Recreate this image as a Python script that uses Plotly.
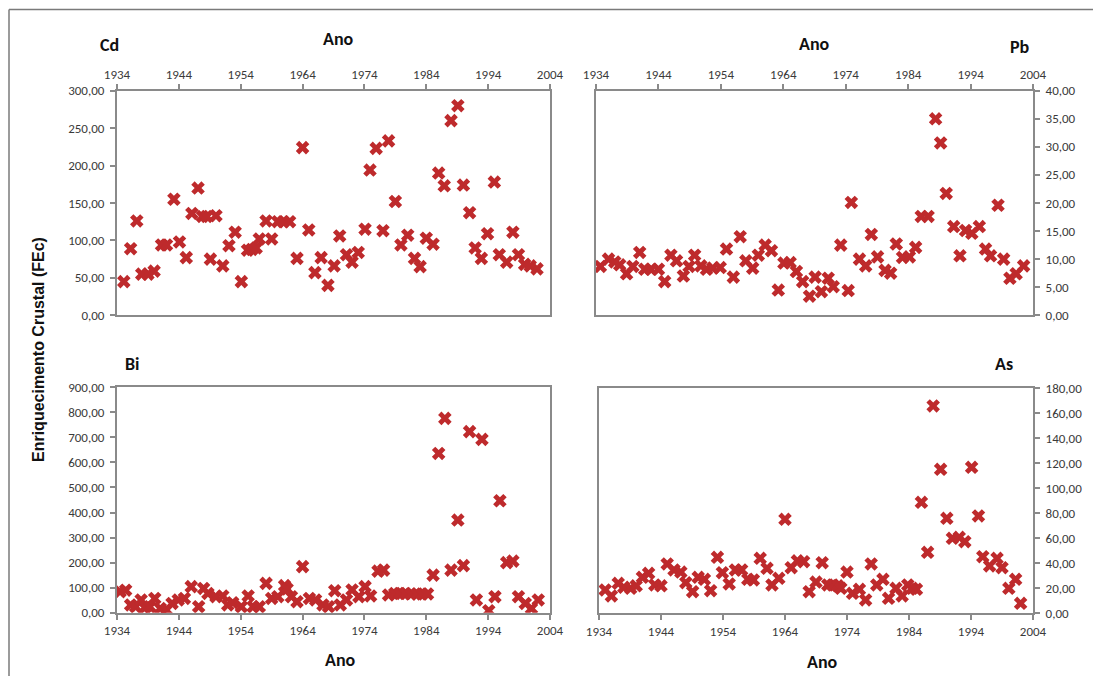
import plotly.graph_objects as go

# ---------------- data ----------------
years_cd = [1935.1, 1936.2, 1937.2, 1938.0, 1939.0, 1940.0, 1941.2, 1942.0, 1943.2, 1944.1,
            1945.2, 1946.1, 1947.1, 1947.8, 1948.5, 1949.1, 1950.0, 1951.1, 1952.1, 1953.1,
            1954.1, 1955.1, 1955.8, 1956.5, 1957.0, 1958.1, 1959.0, 1960.0, 1960.9, 1961.9,
            1963.1, 1964.0, 1965.0, 1966.0, 1967.0, 1968.1, 1969.1, 1970.0, 1971.1, 1972.0,
            1973.0, 1974.1, 1974.9, 1975.9, 1977.0, 1977.9, 1979.0, 1979.9, 1981.0, 1982.1,
            1983.0, 1984.0, 1985.1, 1986.0, 1986.9, 1988.0, 1989.1, 1990.0, 1991.0, 1991.9,
            1992.9, 1993.9, 1995.0, 1995.8, 1997.0, 1998.0, 1998.9, 1999.9, 2000.8, 2001.9]
cd = [45, 89, 126, 55, 55, 59, 94, 94, 155, 98,
      77, 136, 170, 132, 132, 75, 133, 66, 93, 111,
      45, 87, 88, 90, 102, 126, 102, 125, 125, 125,
      76, 224, 114, 57, 77, 40, 66, 106, 81, 71,
      84, 115, 194, 223, 113, 233, 152, 94, 107, 76,
      65, 103, 95, 190, 173, 260, 280, 174, 137, 90,
      76, 109, 178, 81, 71, 111, 81, 68, 66, 62]

years_pb = [1934.7, 1936.0, 1937.0, 1937.8, 1938.9, 1939.9, 1941.0, 1941.8, 1942.8, 1944.0,
            1945.0, 1946.0, 1946.9, 1948.0, 1948.9, 1949.8, 1950.8, 1951.7, 1952.7, 1953.9,
            1954.9, 1956.0, 1957.1, 1958.0, 1959.1, 1960.0, 1961.1, 1962.1, 1963.2, 1964.1,
            1965.1, 1966.1, 1967.1, 1968.2, 1969.1, 1970.1, 1971.2, 1972.0, 1973.2, 1974.4,
            1974.9, 1976.2, 1977.2, 1978.1, 1979.1, 1980.3, 1981.2, 1982.1, 1983.1, 1984.2,
            1985.2, 1986.1, 1987.2, 1988.4, 1989.2, 1990.1, 1991.3, 1992.3, 1993.2, 1994.2,
            1995.4, 1996.4, 1997.2, 1998.4, 1999.3, 2000.3, 2001.3, 2002.5]
pb = [8.7, 10.0, 9.5, 9.0, 7.4, 8.7, 11.2, 8.2, 8.2, 8.2,
      6.0, 10.7, 9.7, 7.0, 8.7, 10.7, 8.8, 8.2, 8.4, 8.5,
      11.8, 6.8, 14.0, 9.7, 8.4, 10.7, 12.5, 11.5, 4.5, 9.3,
      9.4, 7.8, 6.0, 3.4, 6.8, 4.2, 6.6, 5.1, 12.5, 4.4,
      20.1, 10.0, 8.8, 14.4, 10.4, 8.0, 7.5, 12.7, 10.3, 10.4,
      12.1, 17.6, 17.6, 35.0, 30.7, 21.7, 15.8, 10.6, 15.1, 14.6,
      15.8, 11.8, 10.6, 19.6, 10.0, 6.6, 7.4, 8.8]

years_bi = [1934.5, 1935.4, 1936.2, 1937.0, 1937.9, 1938.5, 1939.3, 1940.1, 1941.0, 1942.0,
            1942.9, 1943.9, 1944.9, 1946.0, 1947.2, 1948.0, 1948.7, 1950.0, 1951.1, 1951.9,
            1952.7, 1954.1, 1955.2, 1956.0, 1957.0, 1958.1, 1959.0, 1960.0, 1961.1, 1961.5,
            1962.2, 1963.1, 1964.0, 1965.1, 1966.1, 1967.3, 1968.2, 1969.2, 1970.1, 1971.1,
            1972.0, 1973.1, 1974.1, 1975.0, 1976.2, 1977.1, 1977.9, 1978.9, 1979.7, 1980.6,
            1981.5, 1982.5, 1983.3, 1984.2, 1985.1, 1986.0, 1987.0, 1988.0, 1989.1, 1990.0,
            1991.0, 1992.1, 1993.0, 1994.1, 1995.1, 1995.9, 1997.0, 1998.0, 1998.9, 2000.0,
            2001.0, 2002.1]
bi = [84, 90, 31, 24, 51, 20, 24, 57, 17, 11,
      37, 51, 57, 104, 24, 97, 77, 64, 67, 31,
      40, 24, 67, 24, 24, 117, 57, 64, 108, 95,
      64, 44, 184, 57, 51, 31, 24, 88, 31, 51,
      91, 64, 104, 67, 166, 170, 71, 77, 77, 77,
      75, 75, 75, 75, 150, 636, 776, 170, 370, 188,
      723, 51, 692, 8, 64, 447, 200, 206, 64, 37,
      17, 51]

years_as = [1935.0, 1936.0, 1937.1, 1938.0, 1939.1, 1940.0, 1941.0, 1942.0, 1943.0, 1944.0,
            1945.0, 1946.1, 1947.2, 1948.0, 1949.1, 1950.0, 1951.0, 1952.0, 1953.1, 1953.9,
            1955.0, 1956.0, 1957.0, 1958.0, 1958.9, 1960.0, 1961.1, 1961.9, 1963.0, 1964.0,
            1965.0, 1966.0, 1967.0, 1967.9, 1969.0, 1970.0, 1970.9, 1971.7, 1972.5, 1973.0,
            1974.0, 1974.9, 1976.0, 1977.0, 1977.9, 1978.8, 1979.8, 1980.7, 1981.9, 1982.9,
            1983.8, 1984.5, 1985.2, 1986.0, 1987.0, 1987.9, 1989.1, 1990.1, 1991.0, 1992.1,
            1993.0, 1994.1, 1995.2, 1995.9, 1997.0, 1998.2, 1999.0, 2000.1, 2001.2, 2002.0]
as_ = [18.7, 13.9, 24.0, 20.8, 20.0, 22.0, 28.8, 32.0, 22.7, 22.0,
       39.5, 34.7, 33.0, 24.5, 17.3, 28.8, 27.2, 18.1, 44.8, 32.5,
       23.5, 34.7, 34.7, 27.2, 26.7, 44.0, 36.0, 22.7, 28.0, 75.2,
       36.5, 42.0, 41.3, 17.3, 25.0, 40.5, 22.7, 22.7, 22.0, 20.0,
       33.0, 16.0, 19.2, 10.7, 39.5, 22.7, 27.2, 12.0, 20.0, 13.9,
       22.7, 20.0, 19.2, 88.8, 48.8, 165.9, 115.2, 76.0, 60.0, 60.8,
       57.3, 116.8, 77.9, 45.3, 37.9, 44.0, 36.5, 20.0, 27.2, 8.0]

panel_names = ["Cd", "Pb", "Bi", "As"]
x_label = "Ano"
y_label = "Enriquecimento Crustal (FEc)"
year_range = [1934, 2004]
y_ranges = [[0, 300], [0, 40], [0, 900], [0, 180]]
y_steps = [50, 5, 100, 20]

# ---------------- layout ----------------
# The page body has an 8px margin, so the figure is sized to fit the window exactly
OFF = 8
W, H = 1101 - 2 * OFF, 684 - 2 * OFF
def px_x(p): return (p - OFF) / W
def px_y(p): return 1 - (p - OFF) / H

MARK = "#BE2A2C"
AXC = "#8A8A8A"
TICKF = dict(family="Carlito, Lato, sans-serif", size=13, color="#3A3A3A")
TITLEF = dict(family="Carlito, Lato, sans-serif", size=18, color="#111111")

panels = [
    (years_cd, cd, (117, 550), (90.7, 315.3), "top", "left"),
    (years_pb, pb, (596, 1033), (90.7, 315.3), "top", "right"),
    (years_bi, bi, (117, 550), (387.3, 612.7), "bottom", "left"),
    (years_as, as_, (599, 1033), (388.3, 613.3), "bottom", "right"),
]

fig = go.Figure()
layout = dict(
    template="none",
    width=W, height=H, autosize=False,
    margin=dict(l=0, r=0, t=0, b=0, pad=0, autoexpand=False),
    paper_bgcolor="white", plot_bgcolor="white",
    showlegend=False, separators=",.",
)

for i, (xs, ys, xd, yd, xside, yside) in enumerate(panels):
    n = "" if i == 0 else str(i + 1)
    fig.add_trace(go.Scatter(
        x=xs, y=ys, mode="markers", xaxis="x" + n, yaxis="y" + n,
        marker=dict(symbol="x", size=12, color=MARK, line=dict(width=0)),
        hoverinfo="x+y",
    ))
    layout["xaxis" + n] = dict(
        domain=[px_x(xd[0]), px_x(xd[1])], anchor="y" + n, side=xside,
        range=year_range, tickmode="linear", tick0=1934, dtick=10, tickformat="d",
        showline=True, linecolor=AXC, linewidth=2, mirror=True, automargin=False,
        ticks="outside", ticklen=5, tickcolor=AXC, tickwidth=1.5,
        showgrid=False, zeroline=False, tickfont=TICKF,
    )
    layout["yaxis" + n] = dict(
        domain=[px_y(yd[1]), px_y(yd[0])], anchor="x" + n, side=yside,
        range=y_ranges[i], tickmode="linear", tick0=0, dtick=y_steps[i], tickformat=".2f",
        showline=True, linecolor=AXC, linewidth=2, mirror=True, automargin=False,
        ticks="outside", ticklen=5, tickcolor=AXC, tickwidth=1.5, ticklabelstandoff=3,
        showgrid=False, zeroline=False, tickfont=TICKF,
    )

fig.update_layout(**layout)

labels = [
    (panel_names[0], 109, 45),
    (x_label, 338, 39),
    (x_label, 814, 44),
    (panel_names[1], 1020, 47),
    (panel_names[2], 132, 364),
    (panel_names[3], 1004, 364),
    (x_label, 340, 660),
    (x_label, 822, 662),
]
for txt, x, y in labels:
    fig.add_annotation(text="<b>%s</b>" % txt, x=px_x(x), y=px_y(y), xref="paper", yref="paper",
                       showarrow=False, font=TITLEF, xanchor="center", yanchor="middle")

fig.add_annotation(text="<b>%s</b>" % y_label, x=px_x(38), y=px_y(350), xref="paper", yref="paper",
                   showarrow=False, textangle=-90,
                   font=dict(family="Liberation Sans, Arial, sans-serif", size=16, color="#111111"),
                   xanchor="center", yanchor="middle")

fig.add_shape(type="line", xref="paper", yref="paper", x0=px_x(9), x1=1.0, y0=px_y(9.5), y1=px_y(9.5),
              line=dict(color="#7A7A7A", width=1.5))
fig.add_shape(type="line", xref="paper", yref="paper", x0=px_x(9), x1=px_x(9), y0=px_y(9.5), y1=0,
              line=dict(color="#7A7A7A", width=1.5))

fig.write_html("out.html")
